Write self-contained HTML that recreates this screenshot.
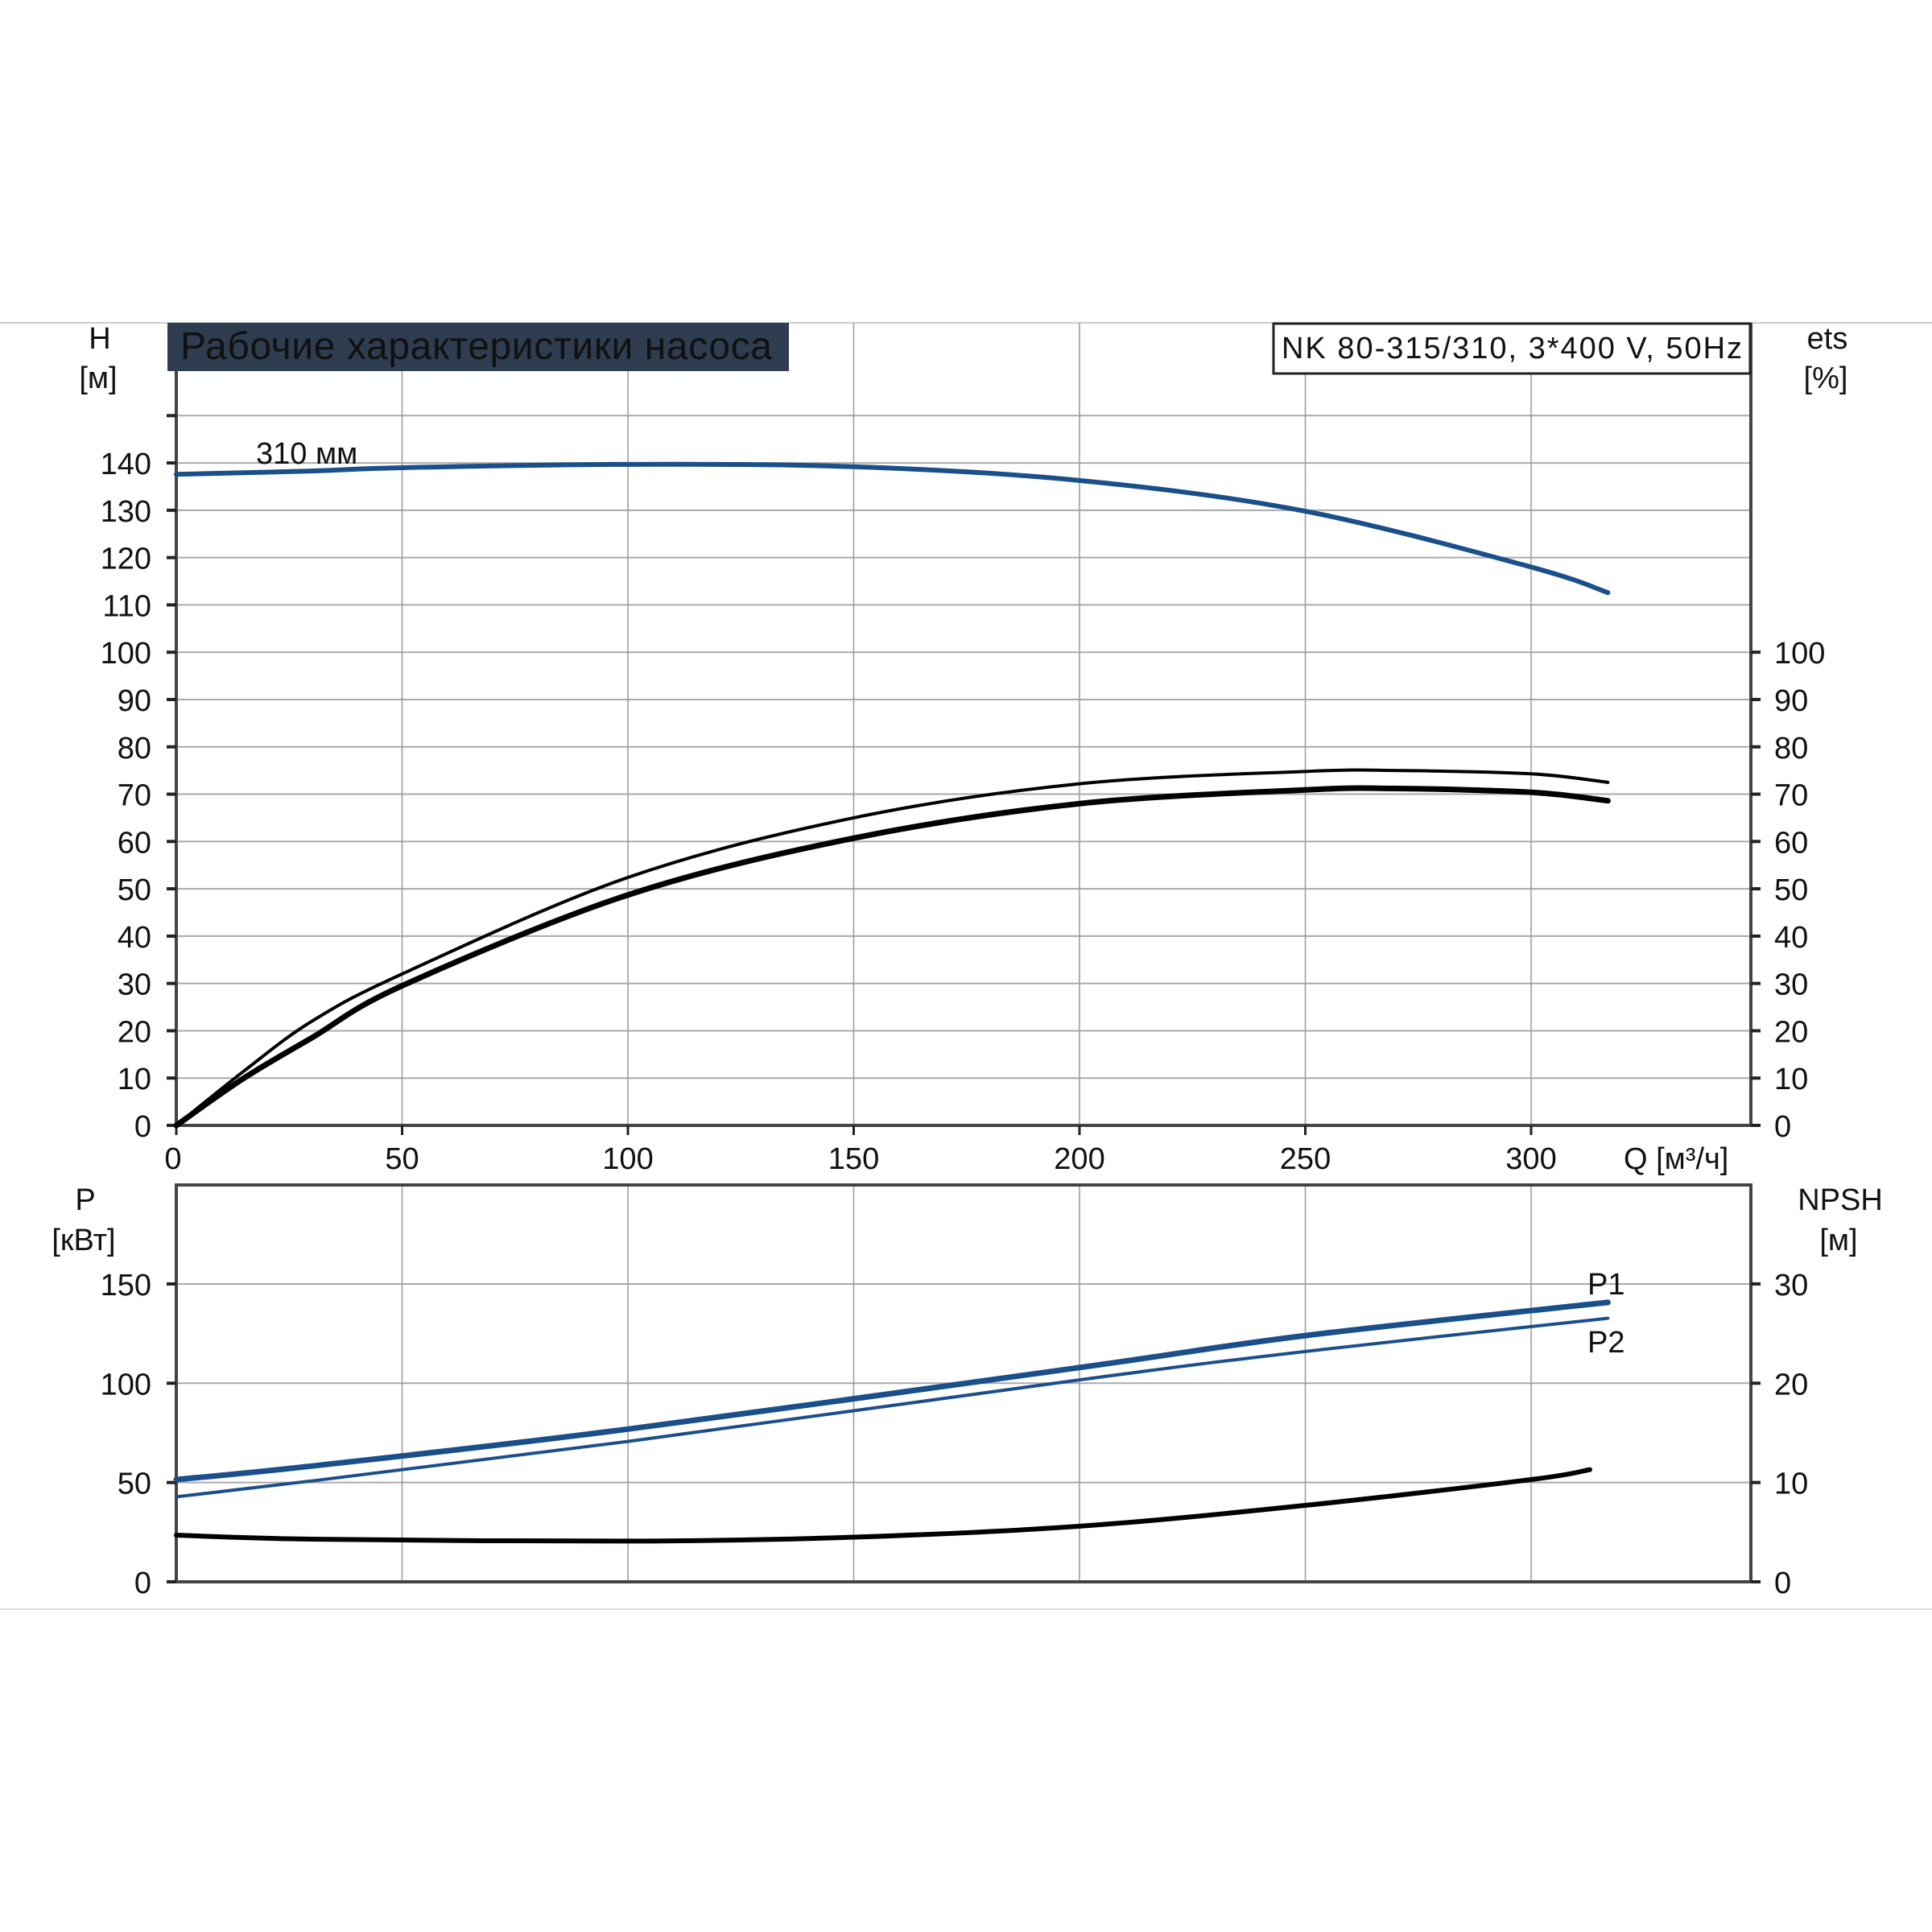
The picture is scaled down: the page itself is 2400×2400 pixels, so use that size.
<!DOCTYPE html>
<html><head><meta charset="utf-8"><style>
html,body{margin:0;padding:0;background:#fff}
svg{display:block}
text{font-family:"Liberation Sans",Arial,sans-serif;fill:#111}
</style></head><body>
<svg id="c" width="2400" height="2400" viewBox="0 0 2400 2400" xmlns="http://www.w3.org/2000/svg"></svg>
<script>
const qTicks=[0,50,100,150,200,250,300];
const hTicks=[0,10,20,30,40,50,60,70,80,90,100,110,120,130,140];
const etaTicks=[0,10,20,30,40,50,60,70,80,90,100];
const pTicks=[0,50,100,150];
const npshTicks=[0,10,20,30];
const hQ=[0,30,50,100,150,200,250,300,317];
const hVal=[137.6,138.3,139,139.7,139.2,136.3,129.8,118,112.6];
const eta1Q=[0,15,30,50,100,150,200,250,270,300,317];
const eta1Val=[0,11.5,22,32,52.4,65,72.2,74.8,75,74.3,72.5];
const eta2Q=[0,15,30,50,100,150,200,250,270,300,317];
const eta2Val=[0,10,18.5,29.5,48.7,60.7,68,70.9,71.2,70.4,68.6];
const p1Q=[0,30,100,200,250,317];
const p1Val=[51.5,58.3,76.9,107.9,124,140.7];
const p2Q=[0,30,100,200,250,317];
const p2Val=[42.8,50.8,70.7,101.7,116,132.7];
const npQ=[0,30,100,150,200,250,300,313];
const npVal=[4.7,4.3,4.1,4.5,5.6,7.7,10.3,11.3];

const NS="http://www.w3.org/2000/svg";
const svg=document.getElementById('c');
const L=219,R=2175,TT=401,TB=1398,BT=1472,BB=1965;
const xQ=q=>L+q*5.61;
const yH=h=>TB-h*5.878;
const yP=p=>BB-p*2.467;
const yN=n=>BB-n*12.335;
function el(tag,attrs,parent){const e=document.createElementNS(NS,tag);for(const k in attrs)e.setAttribute(k,attrs[k]);(parent||svg).appendChild(e);return e;}
function txt(x,y,s,size,anchor,fill){const t=el('text',{x:x,y:y,'font-size':size,'text-anchor':anchor||'start'});if(fill)t.setAttribute('fill',fill);t.textContent=s;return t;}

// separators
let e;
e=el('line',{x1:0,y1:401,x2:2400,y2:401,stroke:'#ccc','stroke-width':2});

e=el('line',{x1:0,y1:1999,x2:2400,y2:1999,stroke:'#ddd','stroke-width':2});


// grids top
for(const h of hTicks.concat([150])){const g=el('line',{x1:L,y1:yH(h),x2:R,y2:yH(h),stroke:'#aaa','stroke-width':2});
}
for(const q of qTicks){if(q===0)continue;const g=el('line',{x1:xQ(q),y1:TT,x2:xQ(q),y2:TB,stroke:'#999','stroke-width':1.5});
}
// grids bottom
for(const p of pTicks){const g=el('line',{x1:L,y1:yP(p),x2:R,y2:yP(p),stroke:'#aaa','stroke-width':2});
}
for(const q of qTicks){if(q===0)continue;const g=el('line',{x1:xQ(q),y1:BT,x2:xQ(q),y2:BB,stroke:'#999','stroke-width':1.5});
}

// axes top
e=el('path',{d:`M${L},${TT} V${TB} H${R} V${TT}`,fill:'none',stroke:'#444','stroke-width':4});

e=el('rect',{x:L,y:BT,width:R-L,height:BB-BT,fill:'none',stroke:'#444','stroke-width':4});


// ticks & labels
for(const h of hTicks.concat([150])){el('line',{x1:L-12,y1:yH(h),x2:L,y2:yH(h),stroke:'#222','stroke-width':4});}
for(const h of hTicks){const t=txt(188,yH(h)+14,String(h),38,'end');
}
for(const v of etaTicks){el('line',{x1:R,y1:yH(v),x2:R+12,y2:yH(v),stroke:'#222','stroke-width':4});
const t=txt(2204,yH(v)+14,String(v),38,'start');
}
for(const q of qTicks){el('line',{x1:xQ(q),y1:TB,x2:xQ(q),y2:TB+12,stroke:'#222','stroke-width':3});
const t=txt(xQ(q)-(q===0?4:0),1452,String(q),38,'middle');
}
for(const p of pTicks){el('line',{x1:L-12,y1:yP(p),x2:L,y2:yP(p),stroke:'#222','stroke-width':4});
const t=txt(188,yP(p)+14,String(p),38,'end');
}
for(const n of npshTicks){el('line',{x1:R,y1:yN(n),x2:R+12,y2:yN(n),stroke:'#222','stroke-width':4});
const t=txt(2204,yN(n)+14,String(n),38,'start');
}

// axis titles
const titles=[[124,433,'H','middle','h-axis-title'],[122,482,'[м]','middle','h-axis-unit'],
[2270,433,'ets','middle','eta-axis-title'],[2268,482,'[%]','middle','eta-axis-unit'],
[106,1503,'P','middle','p-axis-title'],[104,1553,'[кВт]','middle','p-axis-unit'],
[2286,1503,'NPSH','middle','npsh-axis-title'],[2284,1553,'[м]','middle','npsh-axis-unit'],
[2017,1452,'Q [м³/ч]','start','q-axis-title']];
for(const [x,y,s,a,n] of titles){const t=txt(x,y,s,38,a);}

// title box
e=el('rect',{x:208,y:401,width:772,height:60,fill:'#2e3d4f'});

e=txt(224,446,'Рабочие характеристики насоса',48,'start','#fff');
e.setAttribute('textLength','735');

e=el('rect',{x:1582,y:402,width:592,height:62,fill:'#fff',stroke:'#222','stroke-width':3});

e=txt(1592,445,'NK 80-315/310, 3*400 V, 50Hz',38,'start');
e.setAttribute('textLength','572');


// curves
function curve(qs,vs,yf,color,w,name){
  const pts=qs.map((q,i)=>[xQ(q),yf(vs[i])]);
  let d=`M${pts[0][0]},${pts[0][1]}`;
  for(let i=0;i<pts.length-1;i++){
    const p0=pts[i-1]||pts[i],p1=pts[i],p2=pts[i+1],p3=pts[i+2]||p2;
    const c1=[p1[0]+(p2[0]-p0[0])/6,p1[1]+(p2[1]-p0[1])/6],c2=[p2[0]-(p3[0]-p1[0])/6,p2[1]-(p3[1]-p1[1])/6];
    d+=` C${c1[0]},${c1[1]} ${c2[0]},${c2[1]} ${p2[0]},${p2[1]}`;
  }
  const p=el('path',{d:d,fill:'none',stroke:color,'stroke-width':w,'stroke-linecap':'round'});
  
  
}
const BLUE='#1a4f8a';
curve(hQ,hVal,yH,BLUE,6,'head-curve');
curve(eta1Q,eta1Val,yH,'#000',4,'efficiency-curve-eta');
curve(eta2Q,eta2Val,yH,'#000',7,'efficiency-curve-total');
curve(p1Q,p1Val,yP,BLUE,7,'p1-power-curve');
curve(p2Q,p2Val,yP,BLUE,4,'p2-power-curve');
curve(npQ,npVal,yN,'#000',6,'npsh-curve');

e=txt(318,576,'310 мм',38,'start');
e=txt(1972,1608,'P1',38,'start',BLUE);
e=txt(1972,1680,'P2',38,'start',BLUE);
</script>
</body></html>
